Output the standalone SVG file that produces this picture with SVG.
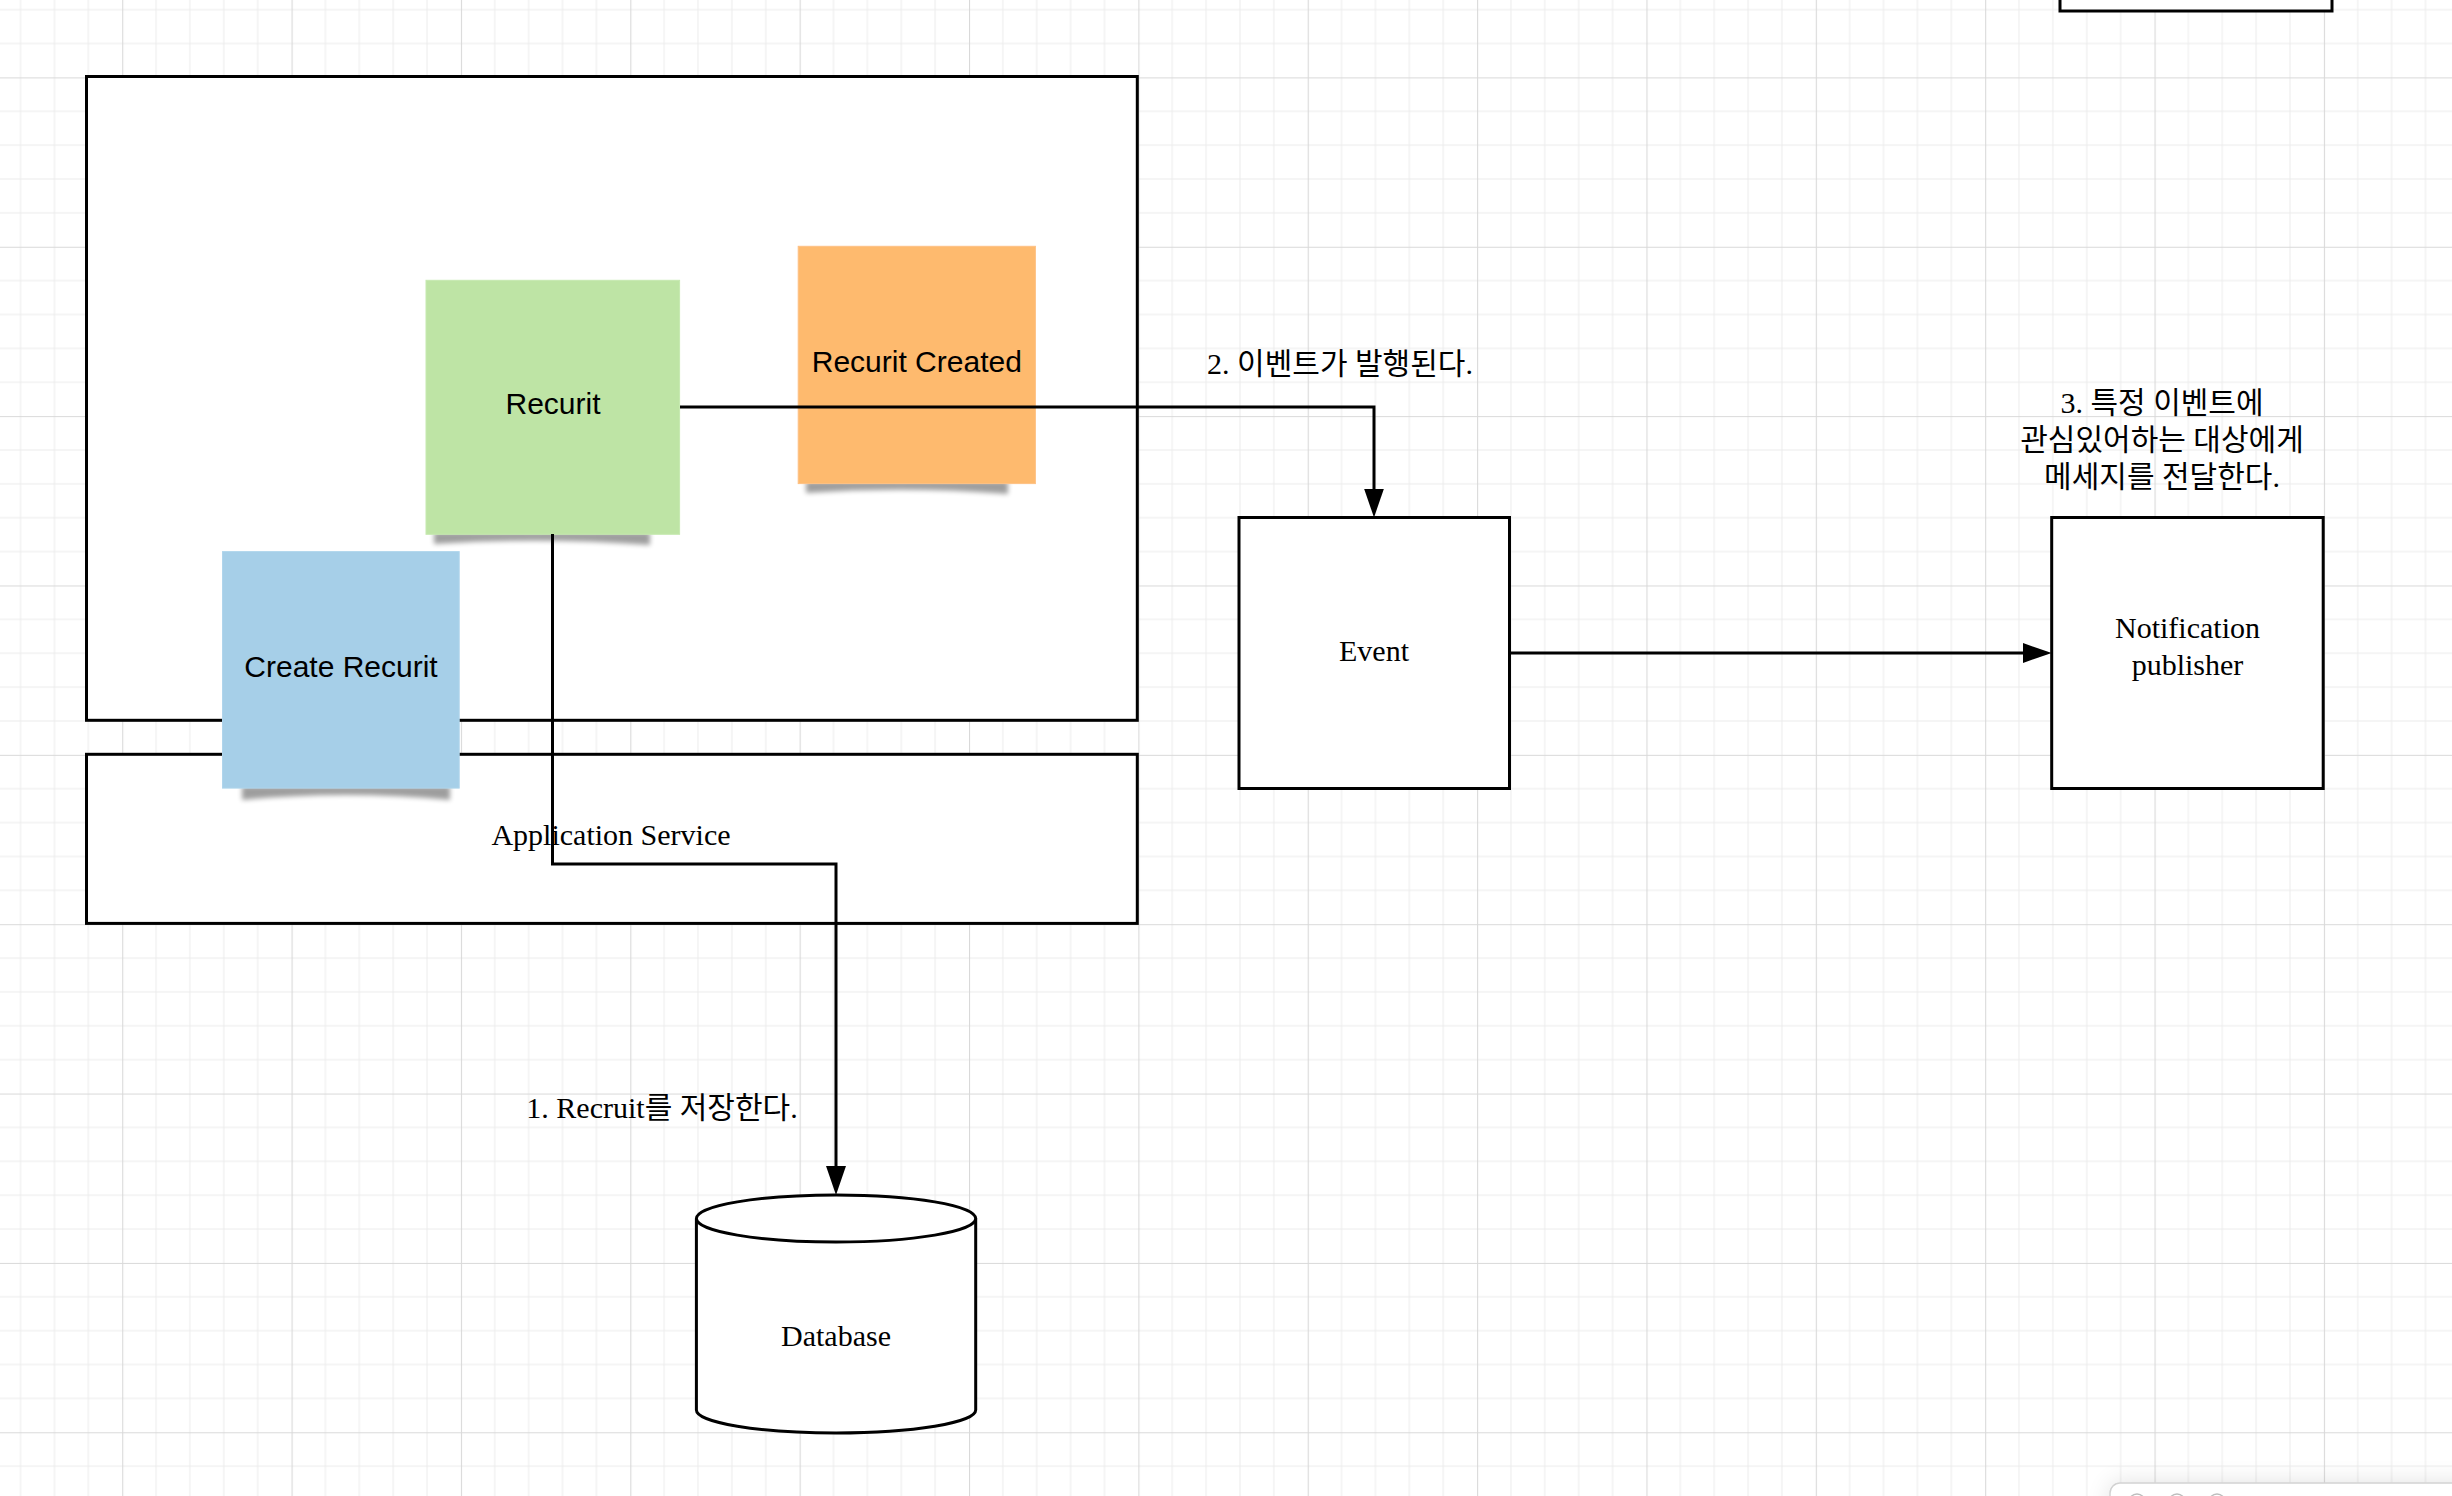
<svg xmlns="http://www.w3.org/2000/svg" width="2452" height="1496" viewBox="0 0 2452 1496">
<style>
.box{fill:#ffffff;stroke:#000000;stroke-width:3}
.conn{fill:none;stroke:#000000;stroke-width:3;stroke-linejoin:miter}
.sans{font-family:"Liberation Sans",Arial,sans-serif;font-size:30px;fill:#000000;text-anchor:middle}
.serif{font-family:"Liberation Serif","Noto Sans CJK KR",serif;font-size:30px;fill:#000000;text-anchor:middle}
.shadow{fill:#000000;opacity:0.38;filter:url(#blur)}
</style>
<defs>
<pattern id="grid" patternUnits="userSpaceOnUse" x="122.2" y="77.4" width="169.36" height="169.36">
<path d="M33.87 0V169.36M67.74 0V169.36M101.62 0V169.36M135.49 0V169.36M0 33.87H169.36M0 67.74H169.36M0 101.62H169.36M0 135.49H169.36" stroke="#ececec" stroke-width="1" fill="none"/>
<path d="M0.5 0V169.36M0 0.5H169.36" stroke="#d9d9d9" stroke-width="1.2" fill="none"/>
</pattern>
<filter id="blur" x="-20%" y="-100%" width="140%" height="300%">
<feGaussianBlur stdDeviation="2.5"/>
</filter>
<filter id="panelShadow" x="-20%" y="-50%" width="140%" height="200%">
<feGaussianBlur in="SourceAlpha" stdDeviation="12"/>
<feComponentTransfer><feFuncA type="linear" slope="0.12"/></feComponentTransfer>
<feMerge><feMergeNode/><feMergeNode in="SourceGraphic"/></feMerge>
</filter>
<marker id="arrow" markerUnits="userSpaceOnUse" markerWidth="30" markerHeight="20" refX="21" refY="10" orient="auto">
<path d="M0 0L29 10L0 20Z" fill="#000000"/>
</marker>
</defs>
<rect x="0" y="0" width="2452" height="1496" fill="#ffffff"/>
<rect x="0" y="0" width="2452" height="1496" fill="url(#grid)"/>

<g id="top-right-box">
<rect class="box" x="2060" y="-20" width="272" height="31"/>
</g>

<g id="domain-box">
<rect class="box" x="86.5" y="76.5" width="1050.8" height="643.8"/>
</g>

<g id="application-service">
<rect class="box" x="86.5" y="754.3" width="1050.8" height="169.1"/>
<text class="serif" x="611" y="845">Application Service</text>
</g>

<g id="event">
<rect class="box" x="1239" y="517.5" width="270.5" height="271"/>
<text class="serif" x="1374" y="661">Event</text>
</g>

<g id="notification-publisher">
<rect class="box" x="2051.7" y="517.5" width="271.5" height="271"/>
<text class="serif" x="2187.5" y="638">Notification</text>
<text class="serif" x="2187.5" y="675">publisher</text>
</g>

<g id="database">
<path class="box" d="M696.4 1218.5A139.65 23.5 0 0 1 975.7 1218.5L975.7 1410A139.65 23 0 0 1 696.4 1410Z"/>
<path class="conn" d="M696.4 1218.5A139.65 23.5 0 0 0 975.7 1218.5"/>
<text class="serif" x="836" y="1346">Database</text>
</g>

<g id="recurit-created">
<path class="shadow" d="M806 481L1008 481L1008 494Q905 486 806 493Z"/>
<rect x="798.2" y="246.3" width="237.2" height="237.3" fill="#feba6e" stroke="#fec184" stroke-width="1"/>
<text class="sans" x="916.8" y="372">Recurit Created</text>
</g>

<g id="recurit">
<path class="shadow" d="M434 532L650 532L650 545Q540 537 434 544Z"/>
<rect x="426" y="280.3" width="253.6" height="254" fill="#bee4a5" stroke="#c6e9b0" stroke-width="1"/>
<text class="sans" x="553" y="414">Recurit</text>
</g>

<g id="create-recurit">
<path class="shadow" d="M242 786L450 786L450 800Q345 790 242 800Z"/>
<rect x="222.5" y="551.6" width="236.7" height="236.5" fill="#a6cfe8" stroke="#b0d5ec" stroke-width="1"/>
<text class="sans" x="341" y="677">Create Recurit</text>
</g>

<g id="connectors">
<path class="conn" d="M680 407H1374V509.5" marker-end="url(#arrow)"/>
<path class="conn" d="M1509.5 653H2043.7" marker-end="url(#arrow)"/>
<path class="conn" d="M552.5 534V864H836V1187" marker-end="url(#arrow)"/>
<text class="serif" x="662" y="1118">1. Recruit를 저장한다.</text>
<text class="serif" x="1340" y="374">2. 이벤트가 발행된다.</text>
<text class="serif" x="2162" y="413">3. 특정 이벤트에</text>
<text class="serif" x="2162" y="450">관심있어하는 대상에게</text>
<text class="serif" x="2162" y="487">메세지를 전달한다.</text>
</g>

<g id="corner-panel" filter="url(#panelShadow)">
<rect x="2110" y="1483" width="400" height="100" rx="10" fill="#ffffff" stroke="#d2d2d2" stroke-width="1.5"/>
<circle cx="2137" cy="1502" r="8" fill="#ffffff" stroke="#bdbdbd" stroke-width="1.5"/>
<circle cx="2177" cy="1502" r="8" fill="#ffffff" stroke="#bdbdbd" stroke-width="1.5"/>
<circle cx="2217" cy="1502" r="8" fill="#ffffff" stroke="#bdbdbd" stroke-width="1.5"/>
</g>
</svg>
